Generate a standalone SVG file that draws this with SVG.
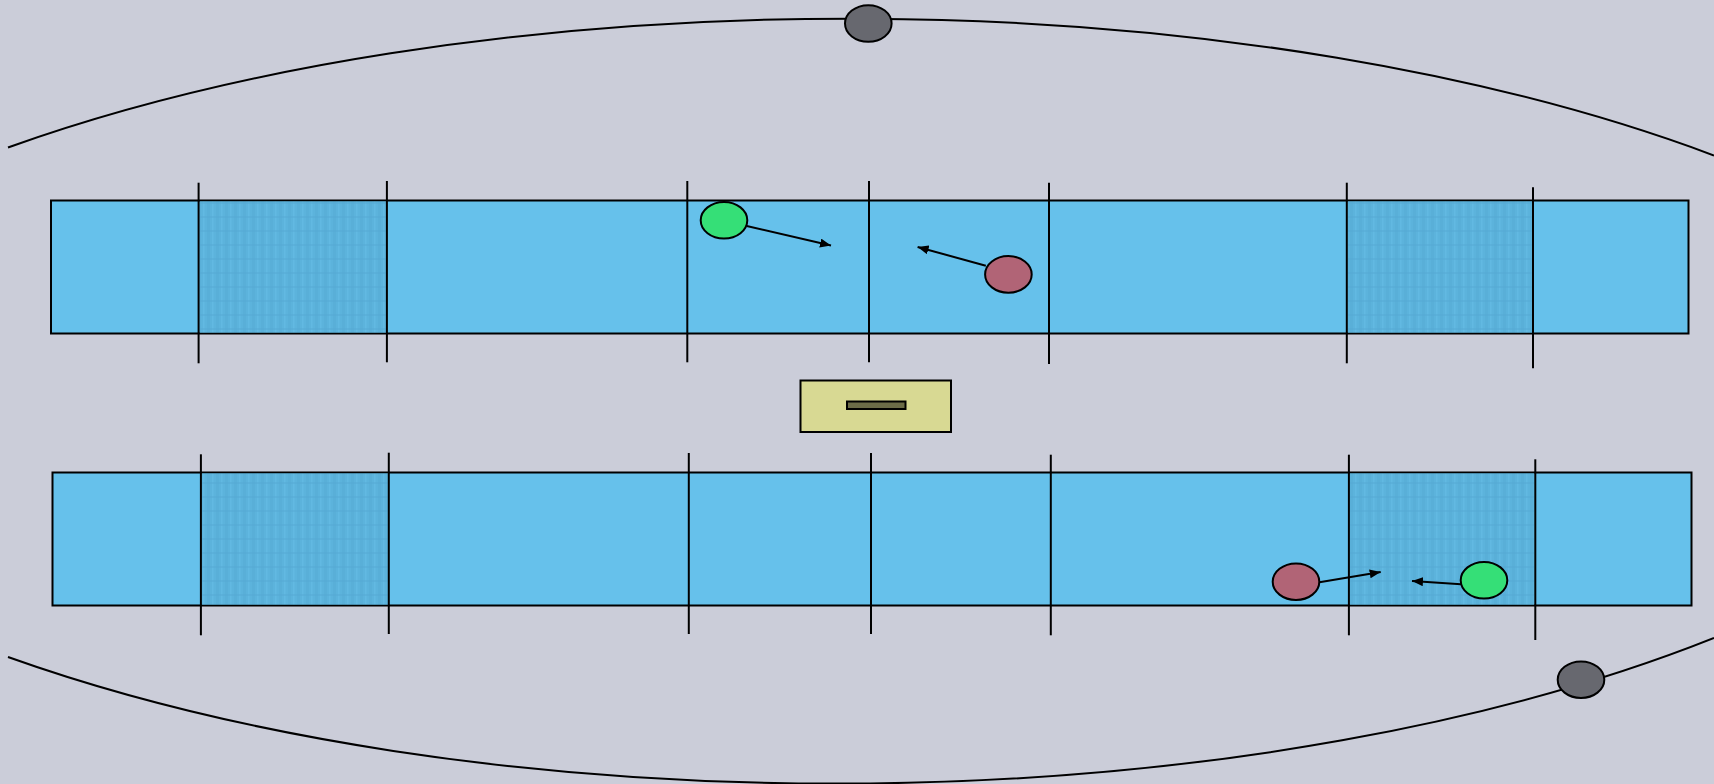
<svg xmlns="http://www.w3.org/2000/svg" width="1714" height="784" viewBox="0 0 1714 784">
<style>
.band{fill:#66c1eb;stroke:#000;stroke-width:2}
.zone{fill:url(#hatch)}
.tick{stroke:#000;stroke-width:2;fill:none}
.arc{stroke:#000;stroke-width:2;fill:none}
.green{fill:#35df77;stroke:#000;stroke-width:2}
.red{fill:#b16476;stroke:#000;stroke-width:2}
.gray{fill:#67686f;stroke:#000;stroke-width:2}
.conn{stroke:#000;stroke-width:2;fill:none;marker-end:url(#ah)}
</style>
<defs>
<pattern id="hatch" patternUnits="userSpaceOnUse" width="9" height="14">
<rect width="9" height="14" fill="#5cb3dc"/>
<rect x="0" y="0" width="3" height="14" fill="#56abd5" opacity="0.6"/>
<rect x="5" y="0" width="1.5" height="14" fill="#66bde6" opacity="0.6"/>
<rect x="0" y="6" width="9" height="2" fill="#55a9d3" opacity="0.5"/>
</pattern>
<marker id="ah" markerUnits="userSpaceOnUse" markerWidth="12" markerHeight="10" refX="11" refY="4.5" orient="auto">
<path d="M0,0 L11,4.5 L0,9 z" fill="#000"/>
</marker>
</defs>
<rect width="1714" height="784" fill="#cbcdd9"/>

<g id="orbit-top">
<path class="arc" d="M8,147.5 A1262,505 0 0 1 1714,155.5"/>
</g>
<g id="orbit-bottom">
<path class="arc" d="M8,657 A1250,505 0 0 0 1714,638"/>
</g>

<g id="band-top">
<rect class="band" x="51" y="200.5" width="1637.5" height="133"/>
<rect class="zone" x="200" y="201.5" width="186" height="131"/>
<rect class="zone" x="1348" y="201.5" width="184" height="131"/>
<line class="tick" x1="198.6" y1="182.7" x2="198.6" y2="363.3"/>
<line class="tick" x1="386.9" y1="181" x2="386.9" y2="362.3"/>
<line class="tick" x1="687.3" y1="181" x2="687.3" y2="362.3"/>
<line class="tick" x1="869" y1="181" x2="869" y2="362.3"/>
<line class="tick" x1="1049" y1="182.7" x2="1049" y2="364"/>
<line class="tick" x1="1346.8" y1="182.7" x2="1346.8" y2="363.3"/>
<line class="tick" x1="1533" y1="187.3" x2="1533" y2="368.3"/>
</g>

<g id="band-bottom">
<rect class="band" x="52.5" y="472.5" width="1639" height="133"/>
<rect class="zone" x="202" y="473.5" width="186" height="131"/>
<rect class="zone" x="1350" y="473.5" width="184" height="131"/>
<line class="tick" x1="200.9" y1="454.3" x2="200.9" y2="635.3"/>
<line class="tick" x1="388.8" y1="452.7" x2="388.8" y2="634"/>
<line class="tick" x1="688.8" y1="453" x2="688.8" y2="634"/>
<line class="tick" x1="871" y1="453" x2="871" y2="634"/>
<line class="tick" x1="1050.8" y1="454.7" x2="1050.8" y2="635.3"/>
<line class="tick" x1="1348.9" y1="454.7" x2="1348.9" y2="635.3"/>
<line class="tick" x1="1535.3" y1="459.3" x2="1535.3" y2="640"/>
</g>

<g id="station">
<rect x="800.5" y="380.5" width="150.5" height="51.5" fill="#d8d993" stroke="#000" stroke-width="2"/>
<rect x="847" y="401.5" width="58.5" height="7.5" fill="#6b6b47" stroke="#000" stroke-width="2"/>
</g>

<g id="connectors">
<line class="conn" x1="746.7" y1="226" x2="831" y2="245.5"/>
<line class="conn" x1="985.8" y1="265.7" x2="917.6" y2="247"/>
<line class="conn" x1="1319.4" y1="582.3" x2="1380.7" y2="572"/>
<line class="conn" x1="1461" y1="584.3" x2="1412" y2="581"/>
</g>

<g id="sat-top"><ellipse class="gray" cx="868.3" cy="23.5" rx="23.3" ry="18.3"/></g>
<g id="sat-bottom"><ellipse class="gray" cx="1581" cy="679.7" rx="23.3" ry="18.3"/></g>
<g id="green-top"><ellipse class="green" cx="724" cy="220.3" rx="23.3" ry="18.3"/></g>
<g id="red-top"><ellipse class="red" cx="1008.4" cy="274.4" rx="23.3" ry="18.3"/></g>
<g id="red-bottom"><ellipse class="red" cx="1296" cy="581.7" rx="23.3" ry="18.3"/></g>
<g id="green-bottom"><ellipse class="green" cx="1484" cy="580.3" rx="23.3" ry="18.3"/></g>
</svg>
